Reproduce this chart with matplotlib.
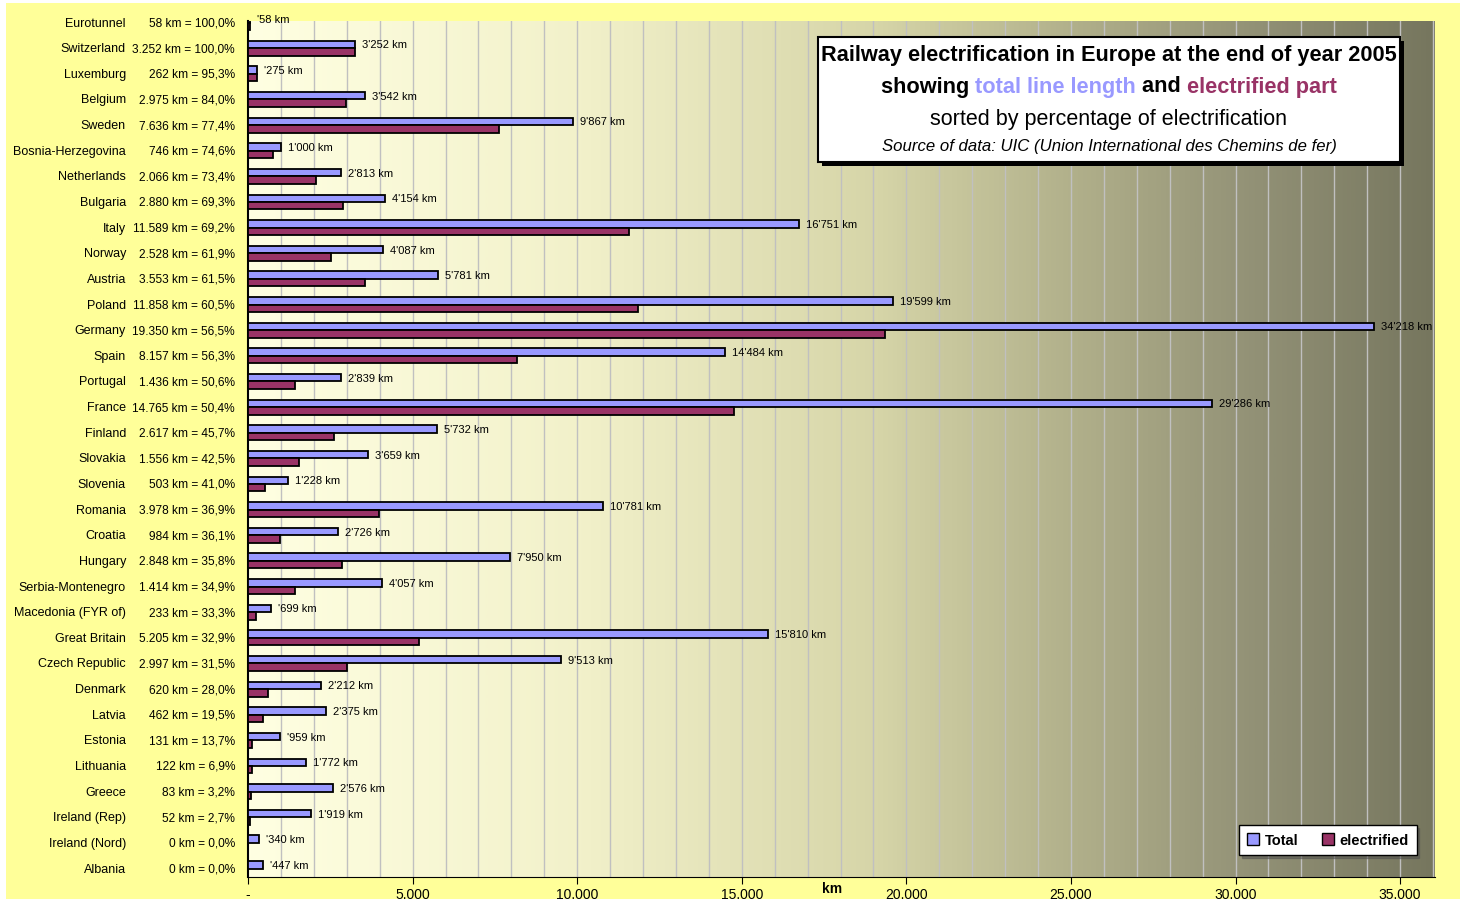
import matplotlib
matplotlib.use('Agg')
import matplotlib.pyplot as plt
from matplotlib import font_manager
import numpy as np
from matplotlib.colors import LinearSegmentedColormap
from matplotlib.patches import Rectangle, Patch

plt.rcParams['font.family'] = ['Liberation Sans', 'DejaVu Sans']
installed = {f.name for f in font_manager.fontManager.ttflist}
if 'Liberation Sans Narrow' in installed:
    narrow, narrow_size = 'Liberation Sans Narrow', 9.5
else:
    narrow, narrow_size = 'Liberation Sans', 8.6

# data (sorted by electrified share)
countries = ['Eurotunnel', 'Switzerland', 'Luxemburg', 'Belgium', 'Sweden',
             'Bosnia-Herzegovina', 'Netherlands', 'Bulgaria', 'Italy', 'Norway',
             'Austria', 'Poland', 'Germany', 'Spain', 'Portugal', 'France',
             'Finland', 'Slovakia', 'Slovenia', 'Romania', 'Croatia', 'Hungary',
             'Serbia-Montenegro', 'Macedonia (FYR of)', 'Great Britain',
             'Czech Republic', 'Denmark', 'Latvia', 'Estonia', 'Lithuania',
             'Greece', 'Ireland (Rep)', 'Ireland (Nord)', 'Albania']
total_km = [58, 3252, 275, 3542, 9867, 1000, 2813, 4154, 16751, 4087,
            5781, 19599, 34218, 14484, 2839, 29286, 5732, 3659, 1228, 10781,
            2726, 7950, 4057, 699, 15810, 9513, 2212, 2375, 959, 1772,
            2576, 1919, 340, 447]
electrified_km = [58, 3252, 262, 2975, 7636, 746, 2066, 2880, 11589, 2528,
                  3553, 11858, 19350, 8157, 1436, 14765, 2617, 1556, 503, 3978,
                  984, 2848, 1414, 233, 5205, 2997, 620, 462, 131, 122,
                  83, 52, 0, 0]
pct_labels = ['100,0%', '100,0%', '95,3%', '84,0%', '77,4%', '74,6%', '73,4%',
              '69,3%', '69,2%', '61,9%', '61,5%', '60,5%', '56,5%', '56,3%',
              '50,6%', '50,4%', '45,7%', '42,5%', '41,0%', '36,9%', '36,1%',
              '35,8%', '34,9%', '33,3%', '32,9%', '31,5%', '28,0%', '19,5%',
              '13,7%', '6,9%', '3,2%', '2,7%', '0,0%', '0,0%']
xtick_labels = ['-', '5.000', '10.000', '15.000', '20.000', '25.000', '30.000', '35.000']

BLUE = '#9999FF'
RED = '#993366'
W, H = 1462, 904


def total_label(v):
    if v >= 1000:
        return "%d'%03d km" % (v // 1000, v % 1000)
    return "'%d km" % v


def elec_label(v):
    if v >= 1000:
        return "%d.%03d" % (v // 1000, v % 1000)
    return str(v)


fig = plt.figure(figsize=(W / 100, H / 100), dpi=100, facecolor='white')
fig.patches.append(Rectangle((6 / W, 4 / H), (W - 8) / W, (H - 8) / H,
                             transform=fig.transFigure, facecolor='#FFFF99',
                             edgecolor='none', zorder=-10))

ax = fig.add_axes([248 / W, 1 - 878 / H, (1435 - 248) / W, (878 - 22) / H])
xmax = 36060
ytop, ybot = -0.06, 33.33

cmap = LinearSegmentedColormap.from_list('bg', [
    (0.0, '#FFFFE2'), (0.28, '#F2F1CA'), (0.53, '#D6D5A8'),
    (0.70, '#B0AF8A'), (0.85, '#929176'), (1.0, '#76765E')])
ax.imshow(np.linspace(0, 1, 512)[None, :], extent=(0, xmax, ybot, ytop),
          aspect='auto', cmap=cmap, zorder=0)
for g in range(1000, 36001, 1000):
    ax.axvline(g, color='#C0C0C0', lw=1, zorder=1)

y = np.arange(len(countries))
ax.barh(y - 0.145, total_km, height=0.29, color=BLUE, edgecolor='black', lw=1.3, zorder=3)
ax.barh(y + 0.145, electrified_km, height=0.29, color=RED, edgecolor='black', lw=1.3, zorder=3)

for i in range(len(countries)):
    ax.annotate(total_label(total_km[i]), xy=(total_km[i], i - 0.145), xytext=(7, 0),
                textcoords='offset pixels', va='center', fontsize=8,
                annotation_clip=False, zorder=4)
    ax.annotate(countries[i], xy=(0, i), xycoords=ax.get_yaxis_transform(),
                xytext=(126 - 248, 0), textcoords='offset pixels',
                ha='right', va='center', fontsize=9)
    ax.annotate('%s km = %s' % (elec_label(electrified_km[i]), pct_labels[i]),
                xy=(0, i), xycoords=ax.get_yaxis_transform(),
                xytext=(235 - 248, 0), textcoords='offset pixels',
                ha='right', va='center', fontsize=narrow_size, family=[narrow, 'DejaVu Sans'])

ax.set_xlim(0, xmax)
ax.set_ylim(ybot, ytop)
ax.set_yticks([])
ax.set_xticks(range(0, 35001, 5000))
ax.set_xticklabels(xtick_labels)
ax.tick_params(axis='x', direction='out', length=5, labelsize=10, pad=2)
for s in ['top', 'right']:
    ax.spines[s].set_visible(False)
ax.spines['left'].set_linewidth(1.5)
ax.text(0.492, -0.013, 'km', transform=ax.transAxes, ha='center', va='center',
        fontweight='bold', fontsize=10)

# legend
handles = [Patch(facecolor=BLUE, edgecolor='black', label='Total'),
           Patch(facecolor=RED, edgecolor='black', label='electrified')]
leg = fig.legend(handles=handles, loc='center', bbox_to_anchor=(1328 / W, 1 - 841 / H),
                 ncol=2, frameon=True, fancybox=False, shadow=True, edgecolor='black',
                 framealpha=1, prop={'weight': 'bold', 'size': 10.5},
                 handlelength=0.8, handleheight=0.8,
                 columnspacing=1.6, handletextpad=0.4, borderpad=0.55, borderaxespad=0)
leg.set_zorder(10)

# title box
bx0, by0, bx1, by1 = 818, 38, 1400, 163
fig.patches.append(Rectangle(((bx0 + 4) / W, 1 - (by1 + 4) / H), (bx1 - bx0) / W, (by1 - by0) / H,
                             transform=fig.transFigure, facecolor='black', zorder=5))
fig.patches.append(Rectangle((bx0 / W, 1 - by1 / H), (bx1 - bx0) / W, (by1 - by0) / H,
                             transform=fig.transFigure, facecolor='white',
                             edgecolor='black', lw=1.5, zorder=6))

r = fig.canvas.get_renderer()
cx = (bx0 + bx1) / 2


def fit(t, target):
    w = t.get_window_extent(r).width
    t.set_fontsize(t.get_fontsize() * target / w)


t1 = fig.text(cx / W, 1 - 56 / H, 'Railway electrification in Europe at the end of year 2005',
              ha='center', va='center', fontweight='bold', fontsize=12, zorder=7)
fit(t1, 573)
t3 = fig.text(cx / W, 1 - 119 / H, 'sorted by percentage of electrification',
              ha='center', va='center', fontsize=13, zorder=7)
fit(t3, 358)
t4 = fig.text(cx / W, 1 - 146 / H, 'Source of data: UIC (Union International des Chemins de fer)',
              ha='center', va='center', fontstyle='italic', fontsize=9, zorder=7)
fit(t4, 455)

pieces = [('showing ', 'black'), ('total line length', BLUE), (' and ', 'black'),
          ('electrified part', RED)]
parts = [fig.text(0, 1 - 87 / H, s, color=c, ha='left', va='center', fontweight='bold',
                  fontsize=12, zorder=7) for s, c in pieces]
widths = [p.get_window_extent(r).width for p in parts]
scale = 454 / sum(widths)
for p in parts:
    p.set_fontsize(12 * scale)
widths = [p.get_window_extent(r).width for p in parts]
x = cx - sum(widths) / 2
for p, w in zip(parts, widths):
    p.set_x(x / W)
    x += w

fig.savefig('out.png', dpi=100, facecolor=fig.get_facecolor())
